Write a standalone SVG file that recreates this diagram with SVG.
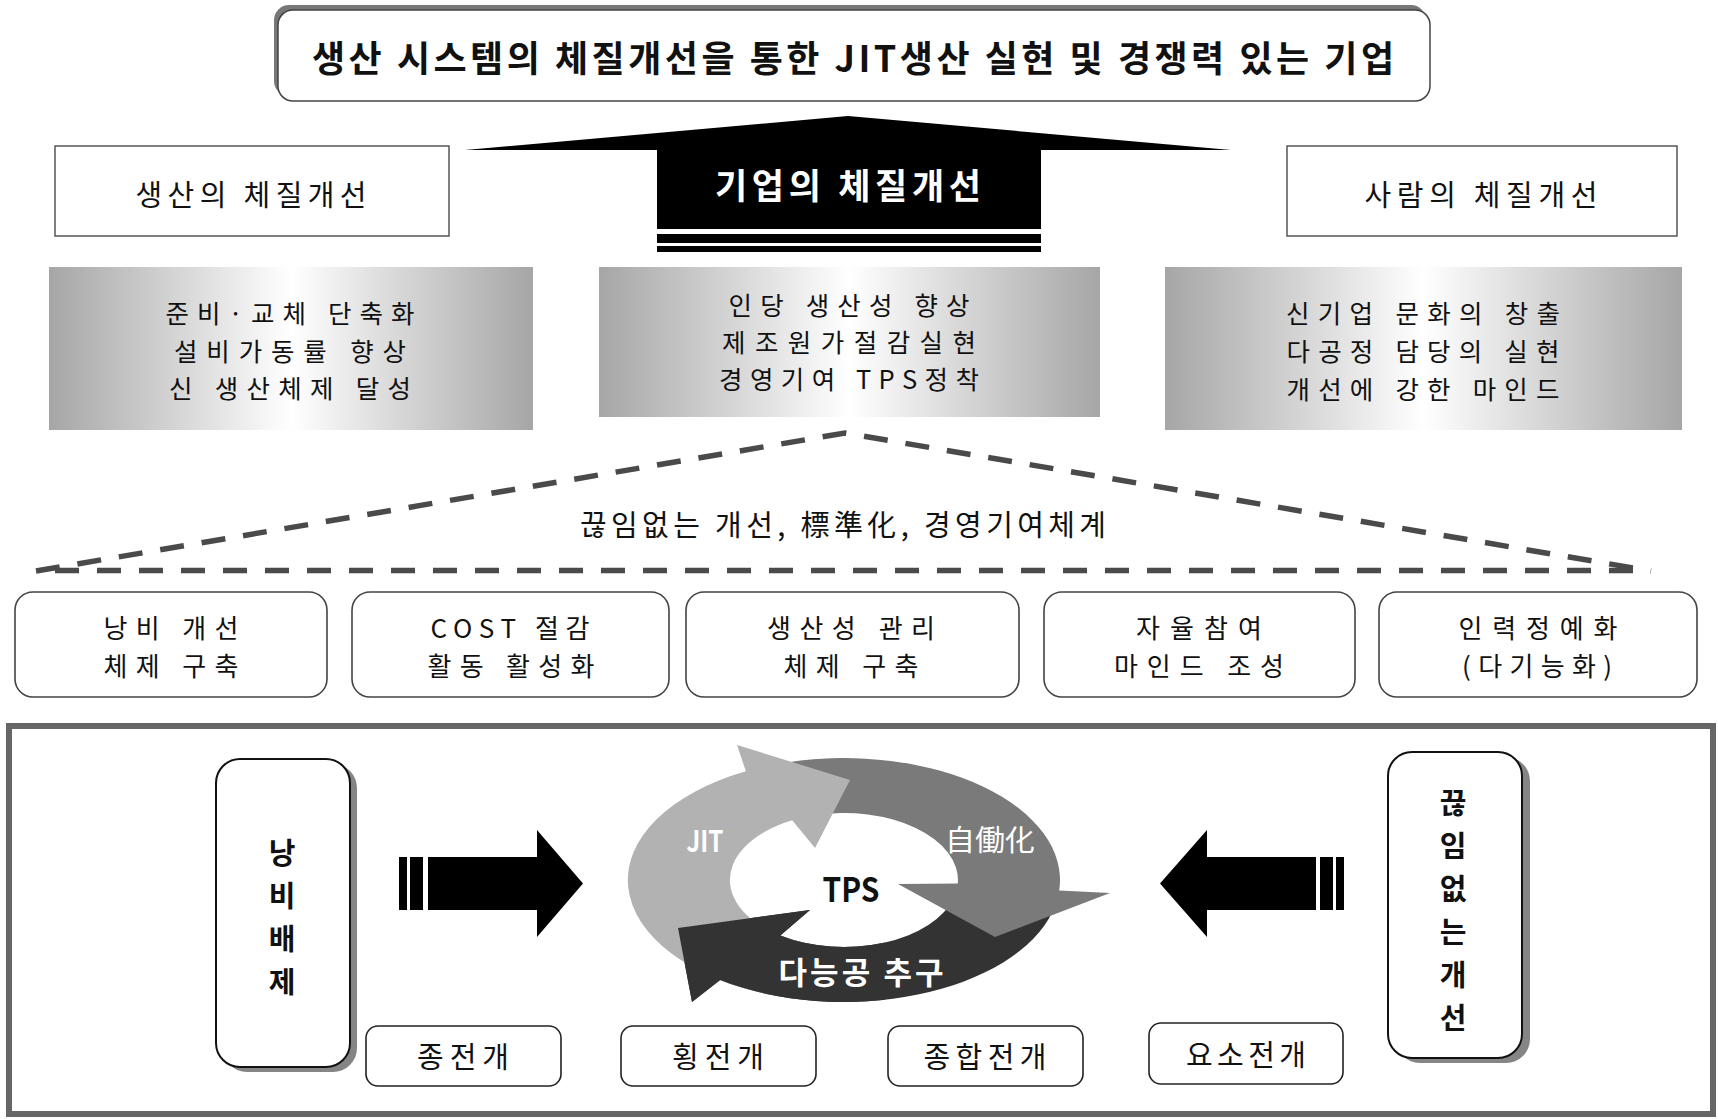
<svg xmlns="http://www.w3.org/2000/svg" width="1718" height="1119" viewBox="0 0 1718 1119">
<defs>
  <linearGradient id="silver" x1="0" y1="0" x2="1" y2="0">
    <stop offset="0" stop-color="#a6a6a6"/>
    <stop offset="0.5" stop-color="#ffffff"/>
    <stop offset="1" stop-color="#a6a6a6"/>
  </linearGradient>
  <clipPath id="darkHeadClip"><rect x="600" y="893" width="285" height="120"/></clipPath>
</defs>
<style>
  text { font-family: "Noto Sans CJK KR", "Noto Sans", "Liberation Sans", sans-serif; text-anchor: middle; fill: #111; }
  .r { font-size: 29px; }
  .g { font-size: 25.5px; }
  .a { font-size: 26px; }
  .b { font-weight: bold; }
  .w { fill: #fff; }
  .box { fill: #fff; stroke: #555; stroke-width: 1.5; }
  .rbox { fill: #fff; stroke: #444; stroke-width: 1.6; }
  .sbox { fill: #fff; stroke: #222; stroke-width: 1.6; }
  .vbox { fill: #fff; stroke: #111; stroke-width: 2; }
  .shadow { fill: #858585; }
  .grad { fill: url(#silver); }
  .dash { fill: none; stroke: #4a4a4a; stroke-width: 5.5; stroke-dasharray: 24 18; }
  .blk { fill: #000; }
  .v { font-weight: bold; font-size: 29px; }
</style>
<rect width="1718" height="1119" fill="#fff"/>

<g id="goal">
  <rect x="274" y="5" width="1152" height="91" rx="15" fill="#777"/>
  <rect x="278" y="10" width="1152" height="91" rx="15" fill="#fff" stroke="#444" stroke-width="1.5"/>
  <text class="b" x="853" y="72" font-size="36" textLength="1082" lengthAdjust="spacing">생산 시스템의 체질개선을 통한 JIT생산 실현 및 경쟁력 있는 기업</text>
</g>

<g id="corp-arrow">
  <polygon class="blk" points="465,150 848,116 1231,150 1041,150 1041,229 657,229 657,150"/>
  <rect class="blk" x="657" y="234" width="384" height="9"/>
  <rect class="blk" x="657" y="246" width="384" height="6"/>
  <text class="b w" x="848" y="199" font-size="35" textLength="266" lengthAdjust="spacing">기업의 체질개선</text>
</g>

<g id="prod-improve">
  <rect class="box" x="55" y="146" width="394" height="90"/>
  <text class="r" x="251" y="206" textLength="231" lengthAdjust="spacing">생산의 체질개선</text>
</g>

<g id="people-improve">
  <rect class="box" x="1287" y="146" width="390" height="90"/>
  <text class="r" x="1481" y="206" textLength="233" lengthAdjust="spacing">사람의 체질개선</text>
</g>

<g id="prod-goals">
  <rect class="grad" x="49" y="267" width="484" height="163"/>
  <text class="g" x="290" y="323" textLength="249" lengthAdjust="spacing">준비·교체 단축화</text>
  <text class="g" x="290" y="360.5" textLength="232" lengthAdjust="spacing">설비가동률 향상</text>
  <text class="g" x="290" y="398" textLength="242" lengthAdjust="spacing">신 생산체제 달성</text>
</g>

<g id="corp-goals">
  <rect class="grad" x="599" y="267" width="501" height="150"/>
  <text class="g" x="849" y="315" textLength="241" lengthAdjust="spacing">인당 생산성 향상</text>
  <text class="g" x="849" y="352" textLength="254" lengthAdjust="spacing">제조원가절감실현</text>
  <text class="g" x="849" y="389" textLength="260" lengthAdjust="spacing">경영기여 TPS정착</text>
</g>

<g id="people-goals">
  <rect class="grad" x="1165" y="267" width="517" height="163"/>
  <text class="g" x="1423" y="323" textLength="274" lengthAdjust="spacing">신기업 문화의 창출</text>
  <text class="g" x="1423" y="361" textLength="273" lengthAdjust="spacing">다공정 담당의 실현</text>
  <text class="g" x="1423" y="399" textLength="273" lengthAdjust="spacing">개선에 강한 마인드</text>
</g>

<g id="connectors">
  <polyline class="dash" points="36,571 845,433 1651,571" stroke-linejoin="miter"/>
  <line class="dash" x1="55" y1="570.5" x2="1636" y2="570.5"/>
</g>

<g id="foundation-label">
  <text class="r" x="843" y="536" textLength="526" lengthAdjust="spacing">끊임없는 개선, 標準化, 경영기여체계</text>
</g>

<g id="act1">
  <rect class="rbox" x="15" y="592" width="312" height="105" rx="18"/>
  <text class="a" x="171" y="638" textLength="135" lengthAdjust="spacing">낭비 개선</text>
  <text class="a" x="171" y="676" textLength="135" lengthAdjust="spacing">체제 구축</text>
</g>
<g id="act2">
  <rect class="rbox" x="352" y="592" width="317" height="105" rx="18"/>
  <text class="a" x="510" y="638" textLength="159" lengthAdjust="spacing">COST 절감</text>
  <text class="a" x="511" y="676" textLength="167" lengthAdjust="spacing">활동 활성화</text>
</g>
<g id="act3">
  <rect class="rbox" x="686" y="592" width="333" height="105" rx="18"/>
  <text class="a" x="851" y="638" textLength="168" lengthAdjust="spacing">생산성 관리</text>
  <text class="a" x="851" y="676" textLength="135" lengthAdjust="spacing">체제 구축</text>
</g>
<g id="act4">
  <rect class="rbox" x="1044" y="592" width="311" height="105" rx="18"/>
  <text class="a" x="1199" y="638" textLength="126" lengthAdjust="spacing">자율참여</text>
  <text class="a" x="1199" y="676" textLength="170" lengthAdjust="spacing">마인드 조성</text>
</g>
<g id="act5">
  <rect class="rbox" x="1379" y="592" width="318" height="105" rx="18"/>
  <text class="a" x="1538" y="638" textLength="159" lengthAdjust="spacing">인력정예화</text>
  <text class="a" x="1537" y="676" textLength="150" lengthAdjust="spacing">(다기능화)</text>
</g>

<g id="frame">
  <rect x="9" y="726" width="1704" height="388" fill="none" stroke="#666" stroke-width="6"/>
</g>

<g id="waste-removal">
  <rect class="shadow" x="223" y="764" width="134" height="308" rx="24"/>
  <rect class="vbox" x="216" y="759" width="134" height="308" rx="24"/>
  <text class="v" x="282" y="864">낭</text>
  <text class="v" x="282" y="907">비</text>
  <text class="v" x="282" y="950">배</text>
  <text class="v" x="282" y="993">제</text>
</g>

<g id="arrow-right">
  <rect class="blk" x="399" y="857" width="8" height="53"/>
  <rect class="blk" x="410" y="857" width="13" height="53"/>
  <polygon class="blk" points="428,857 537,857 537,830 583,883.5 537,937 537,910 428,910"/>
</g>

<g id="tps-cycle">
  <path fill="#333333" d="M1052.6 911.6 A216 122 0 0 1 720.1 979.9 L692 1002 L678 928 L810 910 L780.3 935.5 A114 67 0 0 0 954.1 897.3 Z"/>
  <path fill="#7a7a7a" d="M788.1 762.2 A216 122 0 0 1 1059.2 890.6 L1110 893 L995 937 L898 884 L957.8 883.5 A114 67 0 0 0 814.5 815.3 Z"/>
  <path fill="#b2b2b2" d="M770.1 994.7 A216 122 0 0 1 745.9 771.3 L737 745 L850 780 L815 848 L792.2 820.3 A114 67 0 0 0 805.0 943.0 Z"/>
  <path fill="#333333" clip-path="url(#darkHeadClip)" d="M1052.6 911.6 A216 122 0 0 1 720.1 979.9 L692 1002 L678 928 L810 910 L780.3 935.5 A114 67 0 0 0 954.1 897.3 Z"/>
  <text class="b w" x="705" y="852" font-size="29" textLength="37" lengthAdjust="spacingAndGlyphs">JIT</text>
  <text class="w" x="990" y="851" font-size="29" textLength="90" lengthAdjust="spacingAndGlyphs">自働化</text>
  <text class="b" x="851" y="902" font-size="34" textLength="57" lengthAdjust="spacingAndGlyphs">TPS</text>
  <text class="b w" x="861" y="984" font-size="31" textLength="165" lengthAdjust="spacing">다능공 추구</text>
</g>

<g id="arrow-left">
  <polygon class="blk" points="1316,857 1207,857 1207,830 1160,883.5 1207,937 1207,910 1316,910"/>
  <rect class="blk" x="1320" y="857" width="13" height="53"/>
  <rect class="blk" x="1336" y="857" width="8" height="53"/>
</g>

<g id="continuous-improvement">
  <rect class="shadow" x="1396" y="757" width="134" height="306" rx="24"/>
  <rect class="vbox" x="1388" y="752" width="134" height="306" rx="24"/>
  <text class="v" x="1453" y="814">끊</text>
  <text class="v" x="1453" y="857">임</text>
  <text class="v" x="1453" y="900">없</text>
  <text class="v" x="1453" y="943">는</text>
  <text class="v" x="1453" y="986">개</text>
  <text class="v" x="1453" y="1029">선</text>
</g>

<g id="deploy1">
  <rect class="sbox" x="366" y="1026" width="195" height="60" rx="12"/>
  <text class="r" x="463" y="1068" textLength="92" lengthAdjust="spacing">종전개</text>
</g>
<g id="deploy2">
  <rect class="sbox" x="621" y="1026" width="195" height="60" rx="12"/>
  <text class="r" x="718" y="1068" textLength="92" lengthAdjust="spacing">횡전개</text>
</g>
<g id="deploy3">
  <rect class="sbox" x="888" y="1026" width="195" height="60" rx="12"/>
  <text class="r" x="985" y="1068" textLength="123" lengthAdjust="spacing">종합전개</text>
</g>
<g id="deploy4">
  <rect class="sbox" x="1149" y="1023" width="194" height="61" rx="12"/>
  <text class="r" x="1246" y="1066" textLength="120" lengthAdjust="spacing">요소전개</text>
</g>
</svg>
